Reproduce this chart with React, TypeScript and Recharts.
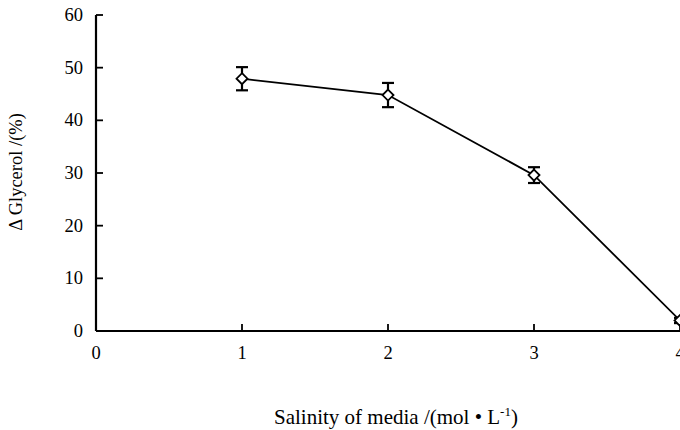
import React from 'react';
import { LineChart, Line, XAxis, YAxis, ErrorBar } from 'recharts';

// salinity of media (mol/L) vs change of glycerol (%)
const salinity = [1, 2, 3, 4];
const glycerol = [47.9, 44.8, 29.6, 2.0];
const glycerolErr = [2.2, 2.3, 1.5, 0.5];
const xTicks = [0, 1, 2, 3, 4];
const yTicks = [0, 10, 20, 30, 40, 50, 60];

const data = salinity.map((s, i) => ({ salinity: s, glycerol: glycerol[i], err: glycerolErr[i] }));

const FONT = '"Liberation Serif", "Times New Roman", serif';

const YTick = (props: any) => {
    const { x, y, payload } = props;
    return (
        <g>
            <line x1={x} y1={y} x2={x + 7} y2={y} stroke="#000" strokeWidth={1.8} />
            <text x={x - 13} y={y} dy={6} textAnchor="end" fontFamily={FONT} fontSize={18.5} fill="#000">
                {payload.value}
            </text>
        </g>
    );
};

const XTick = (props: any) => {
    const { x, y, payload } = props;
    return (
        <g>
            {payload.value !== 0 && <line x1={x} y1={y} x2={x} y2={y - 7} stroke="#000" strokeWidth={1.8} />}
            <text x={x} y={y + 28} textAnchor="middle" fontFamily={FONT} fontSize={18.5} fill="#000">
                {payload.value}
            </text>
        </g>
    );
};

// open diamond marker
const Diamond = (props: any) => {
    const { cx, cy } = props;
    if (cx == null || cy == null) return null;
    return (
        <polygon
            points={`${cx},${cy - 5.5} ${cx + 5.5},${cy} ${cx},${cy + 5.5} ${cx - 5.5},${cy}`}
            fill="#fff"
            stroke="#000"
            strokeWidth={1.8}
        />
    );
};

const YLabel = (props: any) => {
    const { viewBox } = props;
    const cx = viewBox.x + 22;
    const cy = viewBox.y + viewBox.height / 2 - 1;
    return (
        <text x={cx} y={cy} transform={`rotate(-90, ${cx}, ${cy})`} textAnchor="middle" fontFamily={FONT} fontSize={18.5} fill="#000">
            Δ Glycerol /(%)
        </text>
    );
};

const XLabel = (props: any) => {
    const { viewBox } = props;
    const cx = viewBox.x + viewBox.width / 2 + 8;
    return (
        <text x={cx} y={424} textAnchor="middle" fontFamily={FONT} fontSize={21} fill="#000">
            Salinity of media /(mol • L
            <tspan dy={-8} fontSize={13}>-1</tspan>
            <tspan dy={8}>)</tspan>
        </text>
    );
};

export default function App() {
    return (
        <div style={{ position: 'absolute', left: 0, top: 0, width: 680, height: 430, overflow: 'hidden', background: '#fff' }}>
            <LineChart width={700} height={430} data={data} margin={{ top: 15, right: 20, bottom: 0, left: 0 }}>
                <XAxis
                    type="number"
                    dataKey="salinity"
                    domain={[0, 4]}
                    ticks={xTicks}
                    height={99}
                    tickSize={0}
                    tickMargin={0}
                    tickLine={false}
                    axisLine={{ stroke: '#000', strokeWidth: 2.2 }}
                    tick={<XTick />}
                    label={<XLabel />}
                />
                <YAxis
                    type="number"
                    domain={[0, 60]}
                    ticks={yTicks}
                    width={96}
                    tickSize={0}
                    tickMargin={0}
                    tickLine={false}
                    axisLine={{ stroke: '#000', strokeWidth: 2.2 }}
                    tick={<YTick />}
                    label={<YLabel />}
                />
                <Line
                    type="linear"
                    dataKey="glycerol"
                    stroke="#000"
                    strokeWidth={1.8}
                    dot={<Diamond />}
                    activeDot={false}
                    isAnimationActive={false}
                >
                    <ErrorBar dataKey="err" width={6} stroke="#000" strokeWidth={2.2} direction="y" isAnimationActive={false} />
                </Line>
            </LineChart>
        </div>
    );
}
